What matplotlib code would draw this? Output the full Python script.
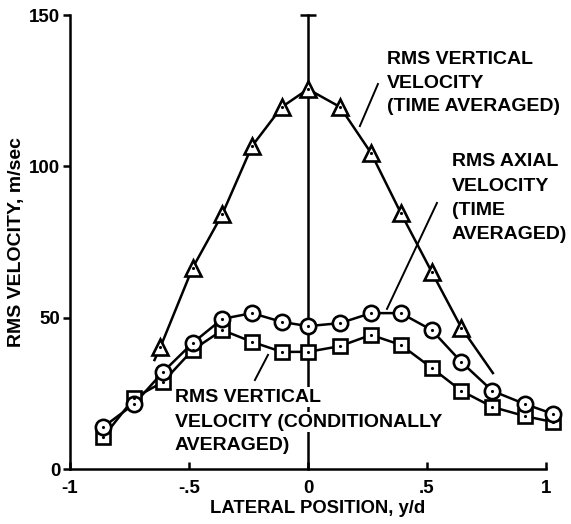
import numpy as np
import matplotlib
matplotlib.use('Agg')
import matplotlib.pyplot as plt

plt.rcParams['font.family'] = 'Liberation Sans'
plt.rcParams['font.weight'] = 'bold'
plt.rcParams['axes.labelweight'] = 'bold'

# lateral stations, y/d
y_d = [-0.86, -0.73, -0.61, -0.485, -0.36, -0.235, -0.11, 0.0,
       0.135, 0.265, 0.39, 0.52, 0.645, 0.775, 0.91, 1.03]
# RMS axial velocity, time averaged (m/sec)
axial_time = [13.9, 21.5, 32.0, 41.6, 49.6, 51.5, 48.6, 47.2,
              48.2, 51.5, 51.5, 45.9, 35.3, 25.8, 21.5, 18.2]
# RMS vertical velocity, conditionally averaged (m/sec)
vert_cond = [10.6, 23.5, 28.7, 39.3, 45.9, 42.0, 38.7, 38.7,
             40.6, 44.3, 41.0, 33.4, 25.8, 20.5, 17.5, 15.5]

# RMS vertical velocity, time averaged (m/sec)
y_d_tri = [-0.62, -0.485, -0.36, -0.235, -0.11, 0.0, 0.135, 0.265, 0.39, 0.52, 0.645]
vert_time = [40.3, 66.4, 84.2, 106.7, 119.6, 125.5, 119.6, 104.4, 84.6, 65.1, 46.6]
# faired curve through the time-averaged vertical data, run past the end points
fair_x = [-0.645] + y_d_tri + [0.777]
fair_y = [36.0] + vert_time + [31.7]

fig = plt.figure(figsize=(5.71, 5.24), dpi=100)
ax = fig.add_axes([70 / 571, 55 / 524, 495 / 571, 454 / 524])
ax.set_xlim(-1, 1.08)
ax.set_ylim(0, 150)

lw = 1.8
ax.plot([0, 0], [0, 150], color='black', lw=lw, zorder=1, clip_on=False)
ax.plot([0], [150], marker='_', ms=11, mew=lw, color='black', clip_on=False)

ax.plot(fair_x, fair_y, color='black', lw=lw, zorder=2)
ax.plot(y_d, axial_time, color='black', lw=lw, zorder=2)
ax.plot(y_d, vert_cond, color='black', lw=lw, zorder=2)

mk = dict(mfc='white', mec='black', mew=1.9, ls='none', zorder=3, clip_on=False)
ax.plot(y_d, vert_cond, marker='s', ms=10.5, **mk)
ax.plot(y_d, axial_time, marker='o', ms=11, **mk)
ax.plot(y_d_tri, vert_time, marker='^', ms=12, **mk)
for xs, ys in [(y_d, vert_cond), (y_d, axial_time), (y_d_tri, vert_time)]:
    ax.plot(xs, ys, marker='.', ms=2.5, color='black', ls='none', zorder=4, clip_on=False)

# label leaders
ax.plot([0.218, 0.294], [113.3, 127.2], color='black', lw=1.4)
ax.plot([0.542, 0.332], [87.9, 52.9], color='black', lw=1.4)
ax.plot([-0.223, -0.168], [29.4, 37.7], color='black', lw=1.4)

fs = 14
lab1 = ['RMS VERTICAL', 'VELOCITY', '(TIME AVERAGED)']
lab2 = ['RMS AXIAL', 'VELOCITY', '(TIME', 'AVERAGED)']
lab3 = ['RMS VERTICAL', 'VELOCITY (CONDITIONALLY', 'AVERAGED)']
box = dict(facecolor='white', edgecolor='none', pad=1)
for s, yy in zip(lab1, [135.4, 127.5, 119.9]):
    ax.text(0.332, yy, s, fontsize=fs, va='center', ha='left')
for s, yy in zip(lab2, [101.7, 93.5, 85.5, 77.6]):
    ax.text(0.605, yy, s, fontsize=fs, va='center', ha='left')
for s, yy in zip(lab3, [23.7, 15.5, 7.9]):
    ax.text(-0.559, yy, s, fontsize=fs, va='center', ha='left', bbox=box, zorder=5)

ax.spines['top'].set_visible(False)
ax.spines['right'].set_visible(False)
ax.spines['left'].set_linewidth(lw)
ax.spines['bottom'].set_linewidth(lw)
ax.spines['bottom'].set_bounds(-1, 1)

ax.set_xticks([-1, -0.5, 0, 0.5, 1])
ax.set_xticklabels(['-1', '-.5', '0', '.5', '1'])
ax.set_yticks([0, 50, 100, 150])
ax.tick_params(axis='x', direction='in', length=5, width=lw, pad=8, labelsize=13.5)
ax.tick_params(axis='y', direction='out', length=5, width=lw, pad=2, labelsize=13.5)
for t in ax.get_xticklabels() + ax.get_yticklabels():
    t.set_fontweight('bold')

ax.set_xlabel('LATERAL POSITION, y/d', fontsize=13.3, labelpad=2)
ax.set_ylabel('RMS VELOCITY, m/sec', fontsize=fs, labelpad=3)

fig.savefig('out.png', dpi=100)
